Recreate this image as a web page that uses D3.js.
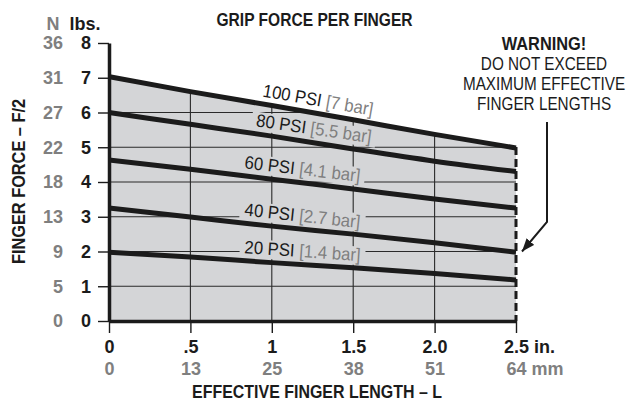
<!DOCTYPE html>
<html>
<head>
<meta charset="utf-8">
<script src="https://cdn.jsdelivr.net/npm/d3@7"></script>
<style>
body { margin: 0; background: #fff; }
svg { display: block; font-family: "Liberation Sans", Arial, sans-serif; }
</style>
</head>
<body>
<svg id="chart" width="627" height="403"></svg>
<script>
'use strict'

// finger length (in.) and grip force (lbs.)
const lengthIn = [0, 0.5, 1, 1.5, 2, 2.5]
const psi100 = [7.03, 6.6, 6.2, 5.79, 5.37, 4.98]
const psi80 = [6.0, 5.66, 5.32, 4.95, 4.6, 4.3]
const psi60 = [4.63, 4.37, 4.08, 3.8, 3.51, 3.25]
const psi40 = [3.25, 2.99, 2.73, 2.5, 2.25, 1.98]
const psi20 = [1.98, 1.84, 1.68, 1.53, 1.37, 1.18]
const psiNames = ['100 PSI', '80 PSI', '60 PSI', '40 PSI', '20 PSI']
const barNames = ['[7 bar]', '[5.5 bar]', '[4.1 bar]', '[2.7 bar]', '[1.4 bar]']

const lbsTicks = [0, 1, 2, 3, 4, 5, 6, 7, 8]
const newtonLabels = ['0', '5', '9', '13', '18', '22', '27', '31', '36']
const inchTicks = [0, 0.5, 1, 1.5, 2, 2.5]
const inchLabels = ['0', '.5', '1', '1.5', '2.0', '2.5']
const mmLabels = ['0', '13', '25', '38', '51', '64']
const warningLines = ['WARNING!', 'DO NOT EXCEED', 'MAXIMUM EFFECTIVE', 'FINGER LENGTHS']

const series = [psi100, psi80, psi60, psi40, psi20]

const black = '#1b1b1b'
const gray = '#7f7f7f'
const fill = '#d4d5d7'
const font = '"Liberation Sans", Arial, sans-serif'

const svg = d3.select('#chart')

const x = d3.scaleLinear().domain([0, 2.5]).range([109, 516])
const y = d3.scaleLinear().domain([0, 8]).range([321, 43])

const pts = vals => vals.map((v, i) => [lengthIn[i], v])

const line = d3.line()
    .x(d => x(d[0]))
    .y(d => y(d[1]))
    .curve(d3.curveMonotoneX)

const area = d3.area()
    .x(d => x(d[0]))
    .y0(y(0))
    .y1(d => y(d[1]))
    .curve(d3.curveMonotoneX)

// layers, bottom to top
const gArea = svg.append('g')
const gGrid = svg.append('g')
const gLines = svg.append('g')
const gLabels = svg.append('g')
const gAxes = svg.append('g')
const gText = svg.append('g')

// the grid only shows inside the shaded area, and not behind the labels
const mask = svg.append('defs').append('mask')
    .attr('id', 'gridMask')
    .attr('maskUnits', 'userSpaceOnUse')
    .attr('x', 0).attr('y', 0).attr('width', 627).attr('height', 403)
mask.append('path')
    .attr('d', area(pts(psi100)))
    .attr('fill', '#fff')

gArea.append('path')
    .attr('d', area(pts(psi100)))
    .attr('fill', fill)

gGrid.attr('mask', 'url(#gridMask)')
    .attr('stroke', '#2a2a2a')
    .attr('stroke-width', 1.1)
gGrid.selectAll('line.h')
    .data(lbsTicks.filter(d => d > 0 && d < 8))
    .enter().append('line')
    .attr('class', 'h')
    .attr('x1', x(0)).attr('x2', x(2.5))
    .attr('y1', d => y(d)).attr('y2', d => y(d))
gGrid.selectAll('line.v')
    .data(inchTicks.filter(d => d > 0 && d < 2.5))
    .enter().append('line')
    .attr('class', 'v')
    .attr('x1', d => x(d)).attr('x2', d => x(d))
    .attr('y1', y(0)).attr('y2', y(8))

gLines.selectAll('path')
    .data(series)
    .enter().append('path')
    .attr('d', d => line(pts(d)))
    .attr('fill', 'none')
    .attr('stroke', black)
    .attr('stroke-width', 5)

// dashed limit at the maximum finger length
gLines.append('line')
    .attr('x1', x(2.5)).attr('x2', x(2.5))
    .attr('y1', y(psi100[psi100.length - 1]) - 1)
    .attr('y2', y(0))
    .attr('stroke', black)
    .attr('stroke-width', 3)
    .attr('stroke-dasharray', '8 4')

// pressure labels, tilted along their curve
const labelAt = [0.94, 0.9, 0.83, 0.83, 0.83]
series.forEach((vals, i) => {
    const f = d3.scaleLinear().domain(lengthIn).range(vals)
    const lx = labelAt[i]
    const n = vals.length - 1
    const ang = Math.atan2(y(vals[n]) - y(vals[0]), x(2.5) - x(0)) * 180 / Math.PI
    const tr = 'translate(' + x(lx) + ',' + (y(f(lx)) - 7.5) + ') rotate(' + ang + ') scale(0.93,1)'
    const t = gLabels.append('g')
        .attr('transform', tr)
        .append('text')
        .attr('font-size', 18)
    t.append('tspan').attr('fill', black).text(psiNames[i])
    t.append('tspan').attr('fill', gray).text(' ' + barNames[i])
    const b = t.node().getBBox()
    mask.append('rect')
        .attr('transform', tr)
        .attr('x', b.x - 5)
        .attr('y', b.y + 2)
        .attr('width', b.width + 10)
        .attr('height', b.height - 2)
        .attr('fill', '#000')
})

// axes
const yAxis = d3.axisLeft(y)
    .tickValues(lbsTicks)
    .tickSize(11)
    .tickSizeOuter(0)
    .tickPadding(7)
    .tickFormat(d3.format('d'))
const gy = gAxes.append('g')
    .attr('transform', 'translate(' + x(0) + ',0)')
    .call(yAxis)

const xAxis = d3.axisBottom(x)
    .tickValues(inchTicks)
    .tickSize(12)
    .tickSizeOuter(0)
    .tickPadding(7)
    .tickFormat((d, i) => inchLabels[i])
const gx = gAxes.append('g')
    .attr('transform', 'translate(0,' + y(0) + ')')
    .call(xAxis)

gAxes.selectAll('g')
    .attr('font-family', font)
    .attr('font-size', 18)
    .attr('font-weight', 'bold')
gAxes.selectAll('.domain')
    .attr('stroke', black)
    .attr('stroke-width', 3.5)
gAxes.selectAll('.tick line')
    .attr('stroke', black)
    .attr('stroke-width', 1.4)
gAxes.selectAll('.tick text')
    .attr('fill', black)

// newton column next to the pound labels
gy.selectAll('.tick')
    .append('text')
    .attr('x', 63 - x(0))
    .attr('dy', '0.32em')
    .attr('text-anchor', 'end')
    .attr('fill', gray)
    .text((d, i) => newtonLabels[i])

// millimetre row under the inch labels
gx.selectAll('.tick')
    .append('text')
    .attr('y', 54)
    .attr('text-anchor', 'middle')
    .attr('fill', gray)
    .text((d, i) => mmLabels[i])

// unit suffixes keep the number itself centred on the last tick
function addUnit(sel, unit) {
    const w = sel.node().getComputedTextLength()
    sel.attr('text-anchor', 'start').attr('x', -w / 2)
    sel.append('tspan').text(unit)
}
const lastTick = gx.selectAll('.tick').filter(d => d === 2.5)
addUnit(lastTick.select('text'), ' in.')
addUnit(lastTick.selectAll('text').filter((d, i) => i === 1), ' mm')

function label(txt, px, py, opts) {
    const g = gText.append('g')
        .attr('transform', 'translate(' + px + ',' + py + ')' + (opts.rotate ? ' rotate(' + opts.rotate + ')' : '') + ' scale(' + (opts.sx || 1) + ',1)')
    return g.append('text')
        .attr('text-anchor', opts.anchor || 'middle')
        .attr('font-size', opts.size || 18)
        .attr('font-weight', opts.bold ? 'bold' : 'normal')
        .attr('fill', opts.color || black)
        .text(txt)
}

label('GRIP FORCE PER FINGER', 314.5, 26, {bold: true, size: 19, sx: 0.82})
label('EFFECTIVE FINGER LENGTH \u2013 L', 317, 398, {bold: true, size: 19, sx: 0.84})
label('FINGER FORCE \u2013 F/2', 25, 181.5, {bold: true, size: 19, sx: 0.86, rotate: -90})
label('N', 53, 30, {bold: true, size: 18, color: gray})
label('lbs.', 85, 30, {bold: true, size: 18})

warningLines.forEach((txt, i) => {
    label(txt, 544, 50 + i * 20, {bold: i === 0, size: 18, sx: i === 0 ? 0.91 : 0.85})
})

// arrow from the warning down to the limit line
svg.append('defs').append('marker')
    .attr('id', 'head')
    .attr('markerUnits', 'userSpaceOnUse')
    .attr('viewBox', '0 0 13 10')
    .attr('refX', 13).attr('refY', 5)
    .attr('markerWidth', 13).attr('markerHeight', 10)
    .attr('orient', 'auto')
    .append('path')
    .attr('d', 'M0,0L13,5L0,10Z')
    .attr('fill', black)
const ax = x(2.5) + 31
gText.append('path')
    .attr('d', 'M' + ax + ',122V' + 222 + 'L' + (x(2.5) + 6) + ',' + y(2))
    .attr('fill', 'none')
    .attr('stroke', black)
    .attr('stroke-width', 2)
    .attr('marker-end', 'url(#head)')
</script>
</body>
</html>
